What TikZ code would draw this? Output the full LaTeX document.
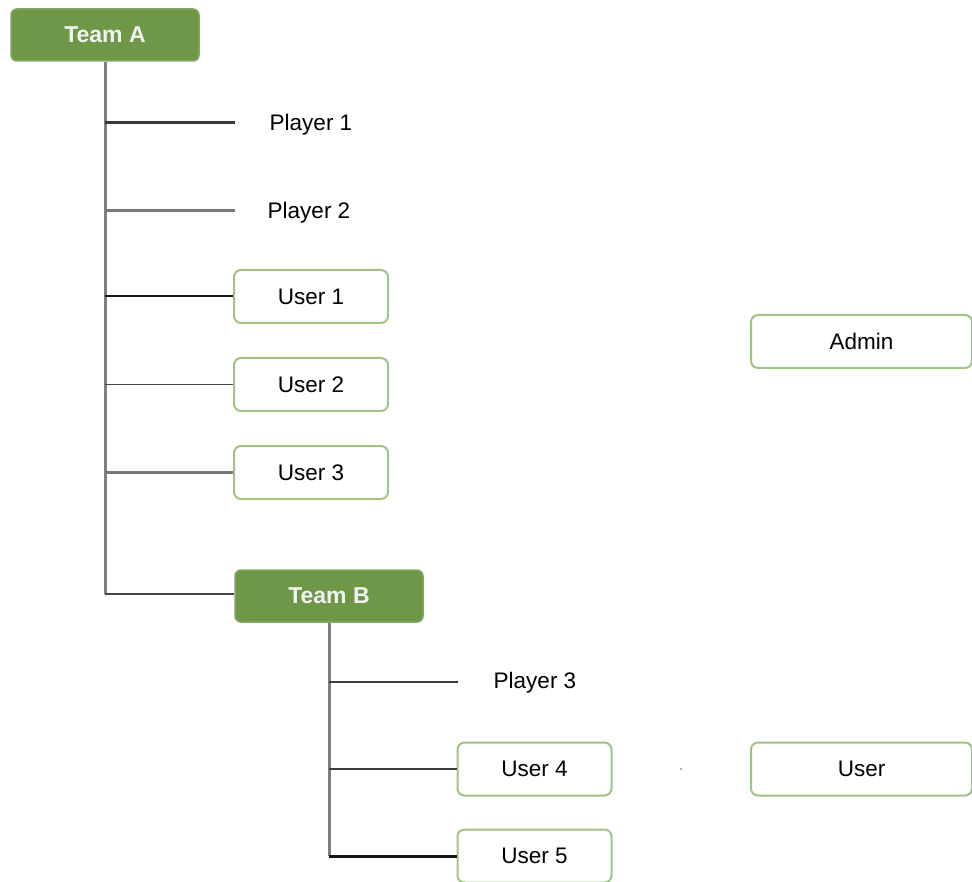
\documentclass[tikz,border=0pt]{standalone}
\usepackage{fontspec}
\setmainfont{Liberation Sans}
\definecolor{teamgreen}{RGB}{110,151,72}
\definecolor{boxedge}{RGB}{160,195,135}
\definecolor{spinegray}{RGB}{128,128,128}
\tikzset{
  teambox/.style={draw=teamgreen!85!white, fill=teamgreen, line width=1.5pt, rounded corners=6pt,
    minimum width=188pt, minimum height=52pt, text=white!95!black, font=\fontsize{23}{26}\selectfont\bfseries, inner sep=0pt},
  userbox/.style={draw=boxedge, fill=white, line width=2pt, rounded corners=7pt,
    minimum width=154pt, minimum height=53pt, font=\fontsize{22.5}{26}\selectfont, inner sep=0pt},
  widebox/.style={userbox, minimum width=221pt},
  plain/.style={font=\fontsize{22.5}{26}\selectfont, inner sep=0pt},
  spine/.style={draw=spinegray, line width=3pt},
}
\begin{document}
\begin{tikzpicture}[x=1pt,y=-1pt]
\useasboundingbox (0,0) rectangle (972,882);
% nodes
\node[teambox] (teamA) at (105,35) {Team A};
\node[plain] (p1) at (311,125) {Player 1};
\node[plain] (p2) at (309,213) {Player 2};
\node[userbox] (u1) at (311,296.5) {User 1};
\node[userbox] (u2) at (311,384.5) {User 2};
\node[userbox] (u3) at (311,472.5) {User 3};
\node[teambox] (teamB) at (329,596) {Team B};
\node[plain] (p3) at (535,683) {Player 3};
\node[userbox] (u4) at (534.5,769) {User 4};
\node[userbox] (u5) at (534.5,856) {User 5};
\node[widebox] (admin) at (861.5,341.5) {Admin};
\node[widebox] (user) at (861.5,769) {User};
% coordinates
\coordinate (a1) at (105,123);
\coordinate (a2) at (105,211);
\coordinate (a3) at (105,296.5);
\coordinate (a4) at (105,384.5);
\coordinate (a5) at (105,472.5);
\coordinate (a6) at (105,594);
\coordinate (e1) at (235,123);
\coordinate (e2) at (235,211);
\coordinate (b1) at (329,682);
\coordinate (b2) at (329,769);
\coordinate (b3) at (329,856);
\coordinate (e3) at (458,682);
% spines
\draw[spine] (teamA.south) -- (a6);
\draw[spine] (teamB.south) -- (b3);
% branches
\draw[draw={rgb,255:red,58;green,58;blue,58}, line width=3pt] (a1) -- (e1);
\draw[draw={rgb,255:red,120;green,120;blue,120}, line width=3pt] (a2) -- (e2);
\draw[draw={rgb,255:red,20;green,20;blue,20}, line width=2pt] (a3) -- (u1.west);
\draw[draw={rgb,255:red,70;green,70;blue,70}, line width=1pt] (a4) -- (u2.west);
\draw[draw={rgb,255:red,120;green,120;blue,120}, line width=3pt] (a5) -- (u3.west);
\draw[draw={rgb,255:red,70;green,70;blue,70}, line width=1.5pt] (a6) -- (a6 -| teamB.west);
\draw[draw={rgb,255:red,60;green,60;blue,60}, line width=1.5pt] (b1) -- (e3);
\draw[draw={rgb,255:red,60;green,60;blue,60}, line width=1.2pt] (b2) -- (u4.west);
\draw[draw={rgb,255:red,20;green,20;blue,20}, line width=3pt] (b3) -- (u5.west);
% stray dot
\fill[gray] (681,769) circle (1pt);
\end{tikzpicture}
\end{document}
